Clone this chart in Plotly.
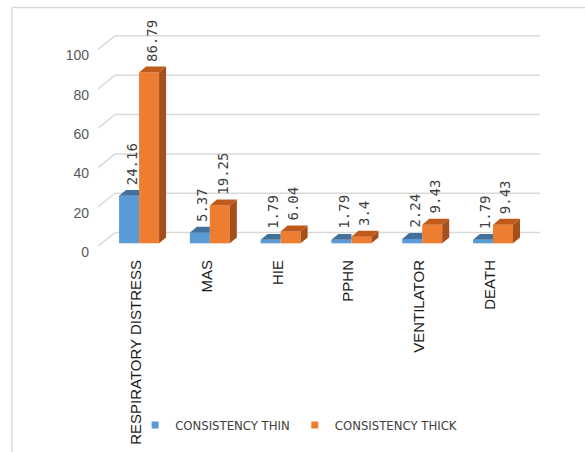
import plotly.graph_objects as go

categories = ["RESPIRATORY DISTRESS", "MAS", "HIE", "PPHN", "VENTILATOR", "DEATH"]
thin_values = [24.16, 5.37, 1.79, 1.79, 2.24, 1.79]
thick_values = [86.79, 19.25, 6.04, 3.4, 9.43, 9.43]
y_ticks = [0, 20, 40, 60, 80, 100]
series_names = ["CONSISTENCY THIN", "CONSISTENCY THICK"]

BLUE, BLUE_TOP = "#5B9BD5", "#41719C"
ORANGE, ORANGE_TOP, ORANGE_SIDE = "#ED7D31", "#C05A1A", "#A5501C"
GRID = "#D9D9D9"

# pseudo-3D geometry (in axis units)
BW = 0.2825          # bar width
DX, DY = 0.099, 3.0  # bar depth offset
WALL_DX, WALL_DY = 0.24, 5.45   # back wall offset
FRONT_DY = -1.5
X0, X1 = -0.58, 5.664
idx = list(range(len(categories)))

fig = go.Figure()

# front faces as bars
fig.add_trace(go.Bar(x=idx, y=thin_values, width=BW, offset=-BW, marker_color=BLUE,
                     marker_line_width=0, showlegend=False, name=series_names[0]))
fig.add_trace(go.Bar(x=idx, y=thick_values, width=BW, offset=0, marker_color=ORANGE,
                     marker_line_width=0, showlegend=False, name=series_names[1]))

def poly(xs, ys, color):
    fig.add_trace(go.Scatter(x=xs + [xs[0]], y=ys + [ys[0]], mode="lines", fill="toself",
                             fillcolor=color, line=dict(width=0, color=color),
                             hoverinfo="skip", showlegend=False))

for i, (vb, vo) in enumerate(zip(thin_values, thick_values)):
    # blue top (clipped at orange front)
    bx0, bx1 = i - BW, i
    poly([bx0, bx1, bx1, bx0 + DX], [vb, vb, vb + DY, vb + DY], BLUE_TOP)
    # orange side + top
    ox0, ox1 = i, i + BW
    poly([ox1, ox1 + DX, ox1 + DX, ox1], [0, DY, vo + DY, vo], ORANGE_SIDE)
    poly([ox0, ox1, ox1 + DX, ox0 + DX], [vo, vo, vo + DY, vo + DY], ORANGE_TOP)

# legend entries
fig.add_trace(go.Scatter(x=[None], y=[None], mode="markers", name=series_names[0],
                         marker=dict(symbol="square", size=7, color=BLUE)))
fig.add_trace(go.Scatter(x=[None], y=[None], mode="markers", name=series_names[1],
                         marker=dict(symbol="square", size=7, color=ORANGE)))

# gridlines: back wall + diagonal to front
shapes = []
for t in y_ticks:
    shapes.append(dict(type="line", xref="x", yref="y", x0=X0 + WALL_DX, x1=X1,
                       y0=t + WALL_DY, y1=t + WALL_DY, line=dict(color=GRID, width=1.5), layer="below"))
    shapes.append(dict(type="line", xref="x", yref="y", x0=X0, x1=X0 + WALL_DX,
                       y0=t + FRONT_DY, y1=t + WALL_DY, line=dict(color=GRID, width=1.5), layer="below"))
# chart border
shapes.append(dict(type="line", xref="paper", yref="paper", x0=-0.195, x1=1.2, y0=1.1, y1=1.1,
                   line=dict(color=GRID, width=1.5)))
shapes.append(dict(type="line", xref="paper", yref="paper", x0=-0.195, x1=-0.195, y0=1.1, y1=-1.0,
                   line=dict(color=GRID, width=1.5)))

annotations = []
for i, (vb, vo) in enumerate(zip(thin_values, thick_values)):
    for v, xc in ((vb, i - BW / 2 + DX / 3), (vo, i + BW / 2 + DX / 3)):
        annotations.append(dict(x=xc, y=v + DY, xref="x", yref="y", text=f"{v:g}",
                                showarrow=False, textangle=-90, yanchor="bottom", xanchor="center",
                                yshift=3, font=dict(family="DejaVu Sans Mono", size=14, color="#404040")))

fig.update_layout(
    width=585, height=452,
    margin=dict(l=98, r=45, t=30, b=190),
    paper_bgcolor="white", plot_bgcolor="white",
    barmode="overlay",
    shapes=shapes, annotations=annotations,
    xaxis=dict(range=[X0, X1], tickvals=[i - 0.04 for i in idx], ticktext=categories,
               tickangle=-90, showgrid=False, zeroline=False, showline=False, ticks="",
               automargin=False,
               tickfont=dict(family="Liberation Sans", size=15, color="#1a1a1a"), fixedrange=True),
    yaxis=dict(range=[-6.44, 108.4], tickvals=[t - 4.5 for t in y_ticks], ticktext=[str(t) for t in y_ticks],
               showgrid=False, zeroline=False, showline=False, ticks="", ticklabelstandoff=8,
               automargin=False,
               tickfont=dict(family="Liberation Sans", size=14, color="#595959"), fixedrange=True),
    legend=dict(orientation="h", x=0.084, y=-0.748, xanchor="left", yanchor="middle",
                bgcolor="rgba(0,0,0,0)",
                font=dict(family="DejaVu Sans Condensed, Liberation Sans", size=13, color="#404040"),
                itemwidth=30, tracegroupgap=0),
    showlegend=True,
)

fig.write_html("out.html")
